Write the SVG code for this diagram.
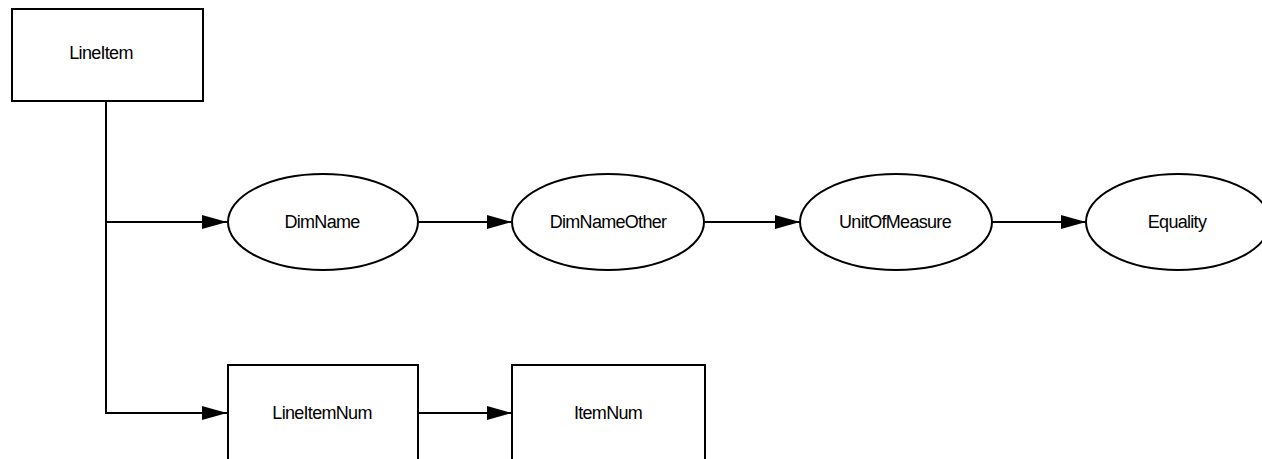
<svg xmlns="http://www.w3.org/2000/svg" width="1262" height="459" viewBox="0 0 1262 459">
<style>
.box{fill:#fff;stroke:#000;stroke-width:2}
.lbl{font-family:"Liberation Sans",Arial,sans-serif;font-size:18px;letter-spacing:-0.7px;fill:#000;text-anchor:middle;dominant-baseline:central}
.conn{fill:none;stroke:#000;stroke-width:2}
</style>
<defs>
<marker id="arr" markerUnits="userSpaceOnUse" markerWidth="26" markerHeight="16" refX="25" refY="7" orient="auto">
<path d="M0,0 L25,7 L0,14 Z" fill="#000"/>
</marker>
</defs>
<rect width="1262" height="459" fill="#fff"/>
<g id="connectors">
<path class="conn" d="M106,101 V413 H227" marker-end="url(#arr)"/>
<path class="conn" d="M106,222 H227" marker-end="url(#arr)"/>
<path class="conn" d="M418,222 H512" marker-end="url(#arr)"/>
<path class="conn" d="M705,222 H800" marker-end="url(#arr)"/>
<path class="conn" d="M992,222 H1086" marker-end="url(#arr)"/>
<path class="conn" d="M418,413 H512" marker-end="url(#arr)"/>
</g>
<g id="LineItem">
<rect class="box" x="12" y="9" width="191" height="92"/>
<text class="lbl" x="101" y="53">LineItem</text>
</g>
<g id="DimName">
<ellipse class="box" cx="323" cy="222" rx="95" ry="48"/>
<text class="lbl" x="322" y="222">DimName</text>
</g>
<g id="DimNameOther">
<ellipse class="box" cx="608" cy="222" rx="96" ry="48"/>
<text class="lbl" x="608" y="222">DimNameOther</text>
</g>
<g id="UnitOfMeasure">
<ellipse class="box" cx="896" cy="222" rx="96" ry="48"/>
<text class="lbl" x="895" y="222">UnitOfMeasure</text>
</g>
<g id="Equality">
<ellipse class="box" cx="1178" cy="222" rx="92" ry="48"/>
<text class="lbl" x="1177" y="222">Equality</text>
</g>
<g id="LineItemNum">
<rect class="box" x="228" y="365" width="190" height="100"/>
<text class="lbl" x="322" y="413">LineItemNum</text>
</g>
<g id="ItemNum">
<rect class="box" x="512" y="365" width="193" height="100"/>
<text class="lbl" x="608" y="413">ItemNum</text>
</g>
</svg>
